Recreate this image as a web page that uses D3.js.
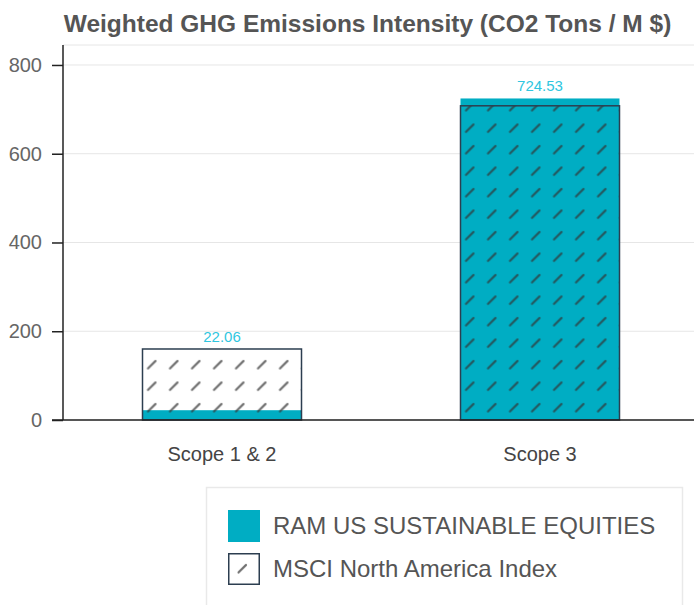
<!DOCTYPE html>
<html>
<head>
<meta charset="utf-8">
<script src="https://cdn.jsdelivr.net/npm/d3@7"></script>
<style>
  html, body { margin: 0; padding: 0; background: #fff; }
  svg { display: block; }
</style>
</head>
<body>
<svg id="chart" width="694" height="605"></svg>
<script>
const title = "Weighted GHG Emissions Intensity (CO2 Tons / M $)";
const categories = ["Scope 1 & 2", "Scope 3"];
const ramValues = [22.06, 724.53];
const msciValues = [160, 708];
const yTicks = [0, 200, 400, 600, 800];
const seriesNames = ["RAM US SUSTAINABLE EQUITIES", "MSCI North America Index"];

const teal = "#00adc3";
const labelColor = "#2fc6e0";
const edge = "#2c3e50";
const font = "'Liberation Sans', Arial, sans-serif";

const svg = d3.select("#chart");
const W = 694;

const y = d3.scaleLinear().domain([0, 845]).range([420, 45]);
const x = d3.scaleBand().domain(categories).range([63, 699]).paddingInner(0.5).paddingOuter(0.25);

const defs = svg.append("defs");
function makePattern(id, x0, y0) {
  const p = defs.append("pattern")
    .attr("id", id)
    .attr("patternUnits", "userSpaceOnUse")
    .attr("width", 22).attr("height", 21.5)
    .attr("x", x0).attr("y", y0);
  p.append("line")
    .attr("x1", 5.5).attr("y1", 13.5).attr("x2", 13).attr("y2", 6)
    .attr("stroke", "#333").attr("stroke-opacity", 0.7)
    .attr("stroke-width", 2.2).attr("stroke-linecap", "round");
}
categories.forEach((c, i) => makePattern("hatch" + i, x(c), 420 - 0.5));
makePattern("hatchLegend", 233, 559);

// title
svg.append("text")
  .attr("x", 367.5).attr("y", 32)
  .attr("text-anchor", "middle")
  .attr("font-family", font).attr("font-size", 24.5).attr("font-weight", "bold")
  .attr("fill", "#555")
  .text(title);

// gridlines
svg.append("g").selectAll("line").data(yTicks.concat([845])).join("line")
  .attr("x1", 63).attr("x2", W)
  .attr("y1", d => y(d)).attr("y2", d => y(d))
  .attr("stroke", "#e6e6e6").attr("stroke-width", 1);

// y axis
const yAxis = svg.append("g").attr("transform", "translate(63,0)")
  .call(d3.axisLeft(y).tickValues(yTicks).tickSize(11).tickPadding(10));
yAxis.select(".domain").attr("stroke", "#222").attr("stroke-width", 1.5).attr("d", `M0,${y(845)}V${y(0)}`);
yAxis.selectAll(".tick line").attr("stroke", "#222").attr("stroke-width", 1.5);
yAxis.selectAll(".tick text").attr("font-family", font).attr("font-size", 20).attr("fill", "#666");

// bars: RAM first
svg.append("g").selectAll("rect").data(categories).join("rect")
  .attr("x", d => x(d))
  .attr("width", x.bandwidth())
  .attr("y", (d, i) => y(ramValues[i]))
  .attr("height", (d, i) => y(0) - y(ramValues[i]))
  .attr("fill", teal);

// MSCI hatched outline bars
svg.append("g").selectAll("rect").data(categories).join("rect")
  .attr("x", d => x(d))
  .attr("width", x.bandwidth())
  .attr("y", (d, i) => y(msciValues[i]))
  .attr("height", (d, i) => y(0) - y(msciValues[i]))
  .attr("fill", (d, i) => `url(#hatch${i})`)
  .attr("stroke", edge).attr("stroke-width", 1.5);

// x axis
const xAxis = svg.append("g").attr("transform", `translate(0,${y(0)})`)
  .call(d3.axisBottom(x).tickSize(0));
xAxis.select(".domain").attr("stroke", "#222").attr("stroke-width", 1.5).attr("d", `M52,0H${W}`);
xAxis.selectAll(".tick text").attr("y", 41).attr("dy", 0)
  .attr("font-family", font).attr("font-size", 20).attr("fill", "#444");

// value labels
svg.append("g").selectAll("text").data(categories).join("text")
  .attr("x", d => x(d) + x.bandwidth() / 2)
  .attr("y", (d, i) => Math.min(y(ramValues[i]), y(msciValues[i])) - 7)
  .attr("text-anchor", "middle")
  .attr("font-family", font).attr("font-size", 15)
  .attr("fill", labelColor)
  .text((d, i) => ramValues[i].toFixed(2));

// legend
const lg = svg.append("g");
lg.append("rect").attr("x", 206.5).attr("y", 487.5).attr("width", 476).attr("height", 140)
  .attr("fill", "#fff").attr("stroke", "#e9e9e9").attr("stroke-width", 1.5);
lg.append("rect").attr("x", 228).attr("y", 510).attr("width", 32).attr("height", 32).attr("fill", teal);
lg.append("rect").attr("x", 228.75).attr("y", 553.75).attr("width", 30.5).attr("height", 30.5)
  .attr("fill", "url(#hatchLegend)").attr("stroke", edge).attr("stroke-width", 1.5);
lg.selectAll("text.lbl").data(seriesNames).join("text")
  .attr("class", "lbl")
  .attr("x", 273).attr("y", (d, i) => 526 + i * 43)
  .attr("dy", "0.35em")
  .attr("font-family", font).attr("font-size", 24)
  .attr("fill", "#555")
  .text(d => d);
</script>
</body>
</html>
